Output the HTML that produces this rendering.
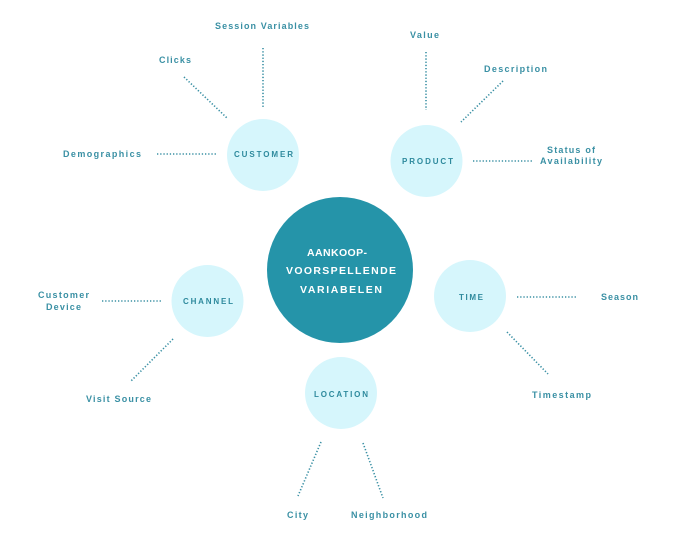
<!DOCTYPE html>
<html>
<head>
<meta charset="utf-8">
<style>
  html, body { margin: 0; padding: 0; background: #ffffff; }
  body { width: 683px; height: 549px; overflow: hidden; }
  svg { display: block; }
  .lbl { font-family: "Liberation Sans", sans-serif; font-weight: bold; font-size: 9px; fill: #3a90a4; }
  .node { font-family: "Liberation Sans", sans-serif; font-weight: bold; font-size: 8px; fill: #2e8a9d; }
  .ctr { font-family: "Liberation Sans", sans-serif; font-weight: bold; font-size: 10.5px; fill: #ffffff; }
  .dot { stroke: #3a90a4; stroke-width: 1.6; stroke-dasharray: 1.3 1.9; fill: none; }
</style>
</head>
<body>
<svg width="683" height="549" viewBox="0 0 683 549" xmlns="http://www.w3.org/2000/svg">
  <rect width="683" height="549" fill="#ffffff"/>

  <!-- circles -->
  <circle cx="340" cy="270" r="73" fill="#2594a9"/>
  <circle cx="263" cy="155" r="36" fill="#d6f6fc"/>
  <circle cx="426.5" cy="161" r="36" fill="#d6f6fc"/>
  <circle cx="207.5" cy="301" r="36" fill="#d6f6fc"/>
  <circle cx="470" cy="296" r="36" fill="#d6f6fc"/>
  <circle cx="341" cy="393" r="36" fill="#d6f6fc"/>

  <!-- dotted connectors -->
  <line class="dot" x1="263" y1="48" x2="263" y2="107"/>
  <line class="dot" x1="184" y1="77" x2="227" y2="118"/>
  <line class="dot" x1="157" y1="154" x2="216" y2="154"/>

  <line class="dot" x1="426" y1="52" x2="426" y2="110"/>
  <line class="dot" x1="503" y1="81" x2="461" y2="122"/>
  <line class="dot" x1="473" y1="161" x2="532" y2="161"/>

  <line class="dot" x1="102" y1="301" x2="161" y2="301"/>
  <line class="dot" x1="173" y1="339" x2="131" y2="381"/>

  <line class="dot" x1="517" y1="297" x2="576" y2="297"/>
  <line class="dot" x1="507" y1="332" x2="548" y2="374"/>

  <line class="dot" x1="321" y1="442" x2="298" y2="496"/>
  <line class="dot" x1="363" y1="443" x2="383" y2="498"/>

  <!-- center text -->
  <text class="ctr" x="307" y="256" textLength="60" lengthAdjust="spacing">AANKOOP-</text>
  <text class="ctr" x="286" y="274" textLength="110" lengthAdjust="spacing">VOORSPELLENDE</text>
  <text class="ctr" x="300" y="293" textLength="82" lengthAdjust="spacing">VARIABELEN</text>

  <!-- node labels -->
  <text class="node" x="234" y="157" textLength="59" lengthAdjust="spacing">CUSTOMER</text>
  <text class="node" x="402" y="164" textLength="51" lengthAdjust="spacing">PRODUCT</text>
  <text class="node" x="183" y="304" textLength="50" lengthAdjust="spacing">CHANNEL</text>
  <text class="node" x="459" y="300" textLength="24" lengthAdjust="spacing">TIME</text>
  <text class="node" x="314" y="397" textLength="54" lengthAdjust="spacing">LOCATION</text>

  <!-- leaf labels -->
  <text class="lbl" x="215" y="29" textLength="94" lengthAdjust="spacing">Session Variables</text>
  <text class="lbl" x="159" y="63" textLength="32" lengthAdjust="spacing">Clicks</text>
  <text class="lbl" x="63" y="157" textLength="78" lengthAdjust="spacing">Demographics</text>

  <text class="lbl" x="410" y="38" textLength="29" lengthAdjust="spacing">Value</text>
  <text class="lbl" x="484" y="72" textLength="63" lengthAdjust="spacing">Description</text>
  <text class="lbl" x="547" y="153" textLength="48" lengthAdjust="spacing">Status of</text>
  <text class="lbl" x="540" y="164" textLength="62" lengthAdjust="spacing">Availability</text>

  <text class="lbl" x="38" y="298" textLength="51" lengthAdjust="spacing">Customer</text>
  <text class="lbl" x="46" y="310" textLength="35" lengthAdjust="spacing">Device</text>
  <text class="lbl" x="86" y="402" textLength="65" lengthAdjust="spacing">Visit Source</text>

  <text class="lbl" x="601" y="300" textLength="37" lengthAdjust="spacing">Season</text>
  <text class="lbl" x="532" y="398" textLength="59" lengthAdjust="spacing">Timestamp</text>

  <text class="lbl" x="287" y="518" textLength="21" lengthAdjust="spacing">City</text>
  <text class="lbl" x="351" y="518" textLength="76" lengthAdjust="spacing">Neighborhood</text>
</svg>
</body>
</html>
